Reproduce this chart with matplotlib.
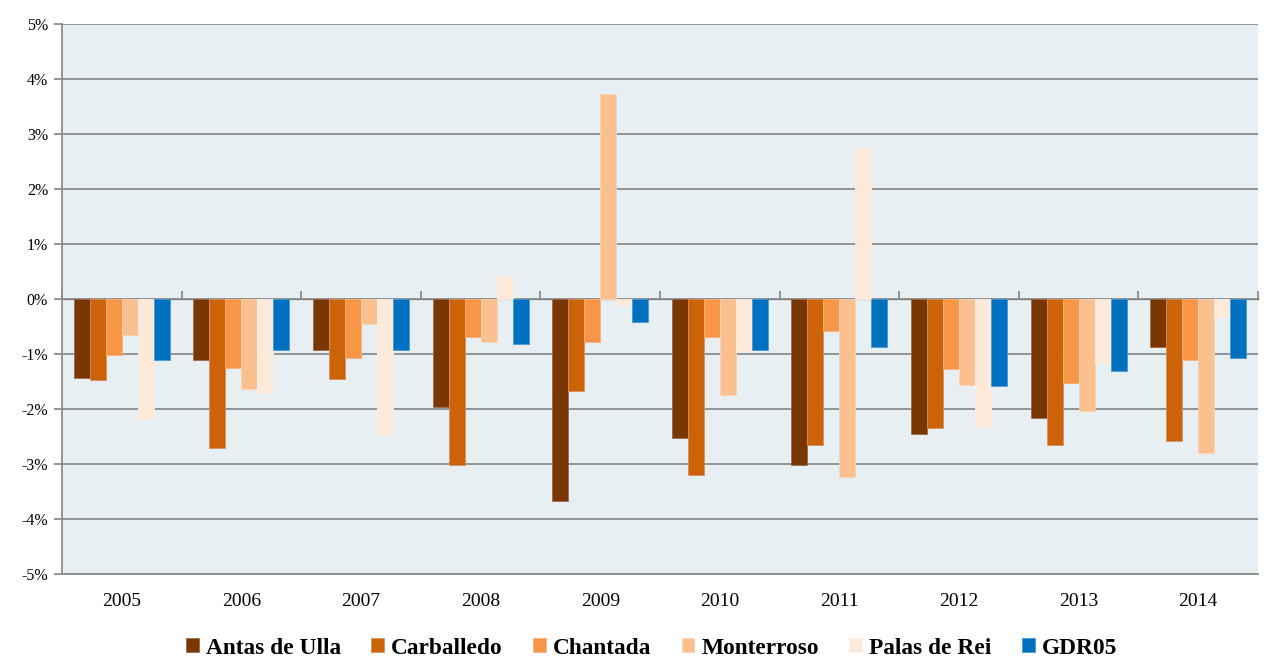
import numpy as np
import matplotlib.pyplot as plt
from matplotlib.ticker import FuncFormatter, FixedLocator

years = ['2005', '2006', '2007', '2008', '2009', '2010', '2011', '2012', '2013', '2014']
series_names = ['Antas de Ulla', 'Carballedo', 'Chantada', 'Monterroso', 'Palas de Rei', 'GDR05']
antas = [-1.44, -1.11, -0.93, -1.96, -3.68, -2.53, -3.02, -2.46, -2.16, -0.88]
carballedo = [-1.47, -2.70, -1.46, -3.01, -1.68, -3.20, -2.65, -2.35, -2.65, -2.59]
chantada = [-1.02, -1.25, -1.07, -0.69, -0.78, -0.69, -0.59, -1.27, -1.52, -1.11]
monterroso = [-0.66, -1.64, -0.46, -0.79, 3.73, -1.74, -3.24, -1.57, -2.04, -2.80]
palas = [-2.18, -1.70, -2.45, 0.41, -0.11, -0.94, 2.75, -2.32, -1.16, -0.33]
gdr05 = [-1.11, -0.92, -0.92, -0.81, -0.41, -0.93, -0.88, -1.59, -1.30, -1.08]

values = [antas, carballedo, chantada, monterroso, palas, gdr05]
colors = ['#7A3703', '#CC6309', '#F79646', '#FAC090', '#FDE9D9', '#0070C0']
edges = ['#9A6A4A', '#D89060', '#F8B080', '#FCD3B0', '#FDF0E6', '#4A98D0']

plt.rcParams['font.family'] = ['Liberation Serif', 'DejaVu Serif']

fig = plt.figure(figsize=(12.64, 6.58), dpi=100)
ax = fig.add_axes([62 / 1264, 1 - 574 / 658, 1196 / 1264, 550 / 658])
ax.set_facecolor('#E8EFF3')

x = np.arange(len(years))
w = 0.134
for i, (vals, c, e) in enumerate(zip(values, colors, edges)):
    ax.bar(x + (i - 2.5) * w, vals, w, color=c, edgecolor=e, linewidth=0.6,
           label=series_names[i], zorder=3)

ax.set_xlim(-0.5, len(years) - 0.5)
ax.set_ylim(-5, 5)
ax.set_yticks(np.arange(-5, 6, 1))
ax.yaxis.set_major_formatter(FuncFormatter(lambda v, p: f'{v:.0f}%'))
ax.grid(axis='y', color='#8C8C8C', linewidth=1.3, zorder=1)
ax.set_axisbelow(True)

ax.set_xticks(x)
ax.set_xticklabels(years)
ax.tick_params(axis='x', length=0, pad=14, labelsize=14)
ax.tick_params(axis='y', length=6, width=1.3, color='#8C8C8C', labelsize=11.5, pad=4)

for s in ['top', 'right']:
    ax.spines[s].set_visible(False)
ax.spines['bottom'].set_color('#8C8C8C')
ax.spines['bottom'].set_linewidth(1.3)
ax.spines['left'].set_color('#8C8C8C')
ax.spines['left'].set_linewidth(1.3)

# category axis crossing at zero
sec = ax.secondary_xaxis(0.5)
sec.xaxis.set_major_locator(FixedLocator(np.arange(-0.5, len(years), 1)))
sec.set_xticklabels([])
sec.tick_params(axis='x', direction='out', length=6, width=1.3, color='#8C8C8C',
                labelbottom=False, labeltop=False)
sec.spines['bottom'].set_color('#8C8C8C')
sec.spines['bottom'].set_linewidth(1.3)

leg = fig.legend(loc='center', bbox_to_anchor=(0.5154, 1 - 648 / 658), ncol=6,
                 frameon=False, handlelength=0.55, handleheight=0.55,
                 handletextpad=0.3, columnspacing=1.3,
                 prop={'weight': 'bold', 'size': 16.8})

fig.savefig('out.png', dpi=100)
